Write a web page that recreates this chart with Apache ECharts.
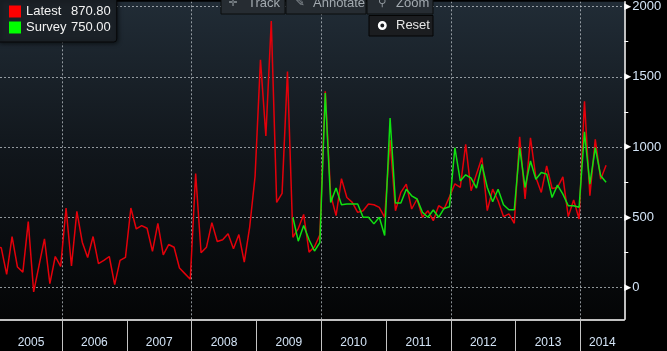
<!DOCTYPE html>
<html>
<head>
<meta charset="utf-8">
<script src="https://cdn.jsdelivr.net/npm/echarts@6/dist/echarts.min.js"></script>
<style>
  html, body { margin: 0; padding: 0; background: #000; }
  #main { width: 667px; height: 351px; }
</style>
</head>
<body>
<div id="main"></div>
<script>
var chartDom = document.getElementById('main');
var myChart = echarts.init(chartDom);
var option;

// 数据起点 [年, 月(0起)]
const latestStart = [2004, 11]; // 2004-12
const latest = [
  290,
  283, 94, 363, 146, 110, 469, -31, 158, 347, 28, 221, 151,        // 2005
  566, 153, 542, 323, 214, 363, 170, 193, 221, 21, 193, 215,       // 2006
  566, 417, 441, 422, 257, 457, 233, 306, 287, 139, 99, 59,        // 2007
  811, 248, 287, 462, 328, 340, 382, 276, 377, 181, 430, 790,      // 2008
  1621, 1078, 1897, 606, 670, 1538, 358, 420, 520, 252, 290, 375,  // 2009
  1396, 660, 512, 775, 641, 606, 535, 547, 594, 589, 571, 500,     // 2010
  1050, 547, 677, 736, 559, 630, 500, 547, 476, 582, 559, 645,     // 2011
  738, 712, 1019, 689, 807, 924, 547, 700, 618, 505, 524, 457,     // 2012
  1073, 630, 1066, 783, 677, 866, 705, 712, 788, 505, 623, 488,    // 2013
  1326, 653, 1054, 771, 870.8                                      // 2014
];
const surveyStart = [2009, 6]; // 2009-07
const survey = [
  500, 330, 441, 340, 260, 320,                                    // 2009
  1384, 606, 708, 589, 594, 594, 594, 500, 500, 453, 500, 370,     // 2010
  1207, 601, 601, 700, 653, 630, 535, 500, 552, 500, 563, 575,     // 2011
  995, 759, 802, 778, 708, 877, 712, 611, 700, 589, 554, 554,      // 2012
  995, 712, 901, 771, 818, 807, 641, 729, 665, 582, 582, 571,      // 2013
  1108, 736, 995, 795, 750                                         // 2014
];
const years = [2005, 2006, 2007, 2008, 2009, 2010, 2011, 2012, 2013, 2014];
const yearBreaks = [2006, 2007, 2008, 2009, 2010, 2011, 2012, 2013, 2014];
const gridYears = [2006, 2008, 2010, 2012, 2014];
const yLabels = [0, 500, 1000, 1500, 2000];

// 坐标范围
const xMin = 2005.043, xMax = 2014.677;
const yMin = -226, yMax = 2033;
const dayFrac = 0.75; // 发布日大约在月底前一周

const toPoints = (start, values) => values.map((v, k) => {
  return [start[0] + (start[1] + k + dayFrac) / 12, v];
});
// 年份标签放在每段可见年份的中间
const yearMid = years.map(y => (Math.max(y, xMin) + Math.min(y + 1, xMax)) / 2);

const font = 'Liberation Sans, Arial, sans-serif';
const labelColor = '#d3e4f6';
const gridLine = { color: 'rgba(190,196,202,0.75)', width: 1, type: [2, 2] };

option = {
  animation: false,
  backgroundColor: '#000',
  textStyle: { fontFamily: font },
  grid: {
    left: 0, right: 42.7, top: 0, bottom: 31.7,
    show: true, borderWidth: 0,
    backgroundColor: new echarts.graphic.LinearGradient(0, 0, 0, 1, [
      { offset: 0, color: '#212c36' },
      { offset: 0.5, color: '#10151a' },
      { offset: 1, color: '#040506' }
    ])
  },
  legend: {
    left: -1, top: -1, orient: 'vertical',
    icon: 'rect', itemWidth: 12, itemHeight: 12, itemGap: 3,
    padding: [6, 6, 8, 10],
    backgroundColor: '#1b2127', borderColor: '#060708', borderWidth: 1,
    borderRadius: [0, 0, 3, 0],
    shadowBlur: 4, shadowColor: 'rgba(0,0,0,0.6)', shadowOffsetX: 1, shadowOffsetY: 1,
    selectedMode: false,
    textStyle: {
      color: '#f2f2f2', fontSize: 13, lineHeight: 13, fontFamily: font,
      rich: {
        n: { width: 45, color: '#f2f2f2', fontSize: 13, fontFamily: font },
        v: { color: '#f2f2f2', fontSize: 13, fontFamily: font }
      }
    },
    formatter: function (name) {
      const arr = name === 'Latest' ? latest : survey;
      return '{n|' + name + '}{v|' + arr[arr.length - 1].toFixed(2) + '}';
    },
    data: ['Latest', 'Survey']
  },
  xAxis: {
    type: 'value', min: xMin, max: xMax, position: 'bottom',
    axisLine: { show: true, onZero: false, lineStyle: { color: '#ffffff', width: 1.5 } },
    axisTick: { show: true, length: 32, customValues: yearBreaks, lineStyle: { color: '#c4c4c4', width: 1 } },
    axisLabel: {
      customValues: yearMid, margin: 17, color: labelColor, fontSize: 12, fontFamily: font,
      formatter: function (v) { return String(Math.floor(v)); }
    },
    splitLine: { show: false }
  },
  yAxis: {
    type: 'value', position: 'right', min: yMin, max: yMax,
    splitNumber: 5, minInterval: 500, maxInterval: 500,
    axisLine: { show: true, onZero: false, lineStyle: { color: '#ffffff', width: 1.5 } },
    axisTick: { show: false },
    minorTick: { show: true, splitNumber: 2, length: 4, lineStyle: { color: '#ffffff', width: 1 } },
    splitLine: { show: true, showMinLine: false, showMaxLine: false, lineStyle: gridLine },
    axisLabel: {
      margin: 0, showMinLabel: false, showMaxLabel: false,
      formatter: function (v) {
        if (yLabels.indexOf(v) < 0) return '';
        return '{t|▶}{v|' + v + '}';
      },
      rich: {
        t: { fontFamily: 'DejaVu Sans', fontSize: 9, color: '#ffffff' },
        v: { fontFamily: font, fontSize: 13, color: labelColor, padding: [0, 0, 0, 1] }
      }
    }
  },
  series: [
    {
      name: 'Latest', type: 'line',
      data: toPoints(latestStart, latest),
      showSymbol: false, symbol: 'none', z: 3,
      itemStyle: { color: '#ff0000' },
      lineStyle: { color: '#e4000a', width: 1.5 },
      // 每两年一条竖向虚线
      markLine: {
        silent: true, z: 1, symbol: ['none', 'none'],
        label: { show: false },
        lineStyle: gridLine,
        data: gridYears.map(y => ({ xAxis: y }))
      }
    },
    {
      name: 'Survey', type: 'line',
      data: toPoints(surveyStart, survey),
      showSymbol: false, symbol: 'none', z: 4,
      itemStyle: { color: '#00ff00' },
      lineStyle: { color: '#10e010', width: 1.5 }
    }
  ],
  graphic: [
    { type: 'rect', z: 100, shape: { x: 221, y: -6, width: 64, height: 20 }, style: { fill: '#262c32', stroke: '#0b0c0d', lineWidth: 1 } },
    { type: 'rect', z: 100, shape: { x: 286, y: -6, width: 80, height: 20 }, style: { fill: '#262c32', stroke: '#0b0c0d', lineWidth: 1 } },
    { type: 'rect', z: 100, shape: { x: 367, y: -6, width: 66, height: 20 }, style: { fill: '#262c32', stroke: '#0b0c0d', lineWidth: 1 } },
    { type: 'text', z: 101, x: 233, y: 3.5, style: { text: '✛', fill: '#8e959b', font: '11px DejaVu Sans', align: 'center', verticalAlign: 'middle' } },
    { type: 'text', z: 101, x: 248, y: 3.5, style: { text: 'Track', fill: '#a3aab0', font: '13px ' + font, verticalAlign: 'middle' } },
    { type: 'text', z: 101, x: 300, y: 3.5, style: { text: '✎', fill: '#8e959b', font: '11px DejaVu Sans', align: 'center', verticalAlign: 'middle' } },
    { type: 'text', z: 101, x: 313, y: 3.5, style: { text: 'Annotate', fill: '#a3aab0', font: '13px ' + font, verticalAlign: 'middle' } },
    { type: 'text', z: 101, x: 382, y: 3.5, style: { text: '⚲', fill: '#8e959b', font: '11px DejaVu Sans', align: 'center', verticalAlign: 'middle' } },
    { type: 'text', z: 101, x: 396, y: 3.5, style: { text: 'Zoom', fill: '#a3aab0', font: '13px ' + font, verticalAlign: 'middle' } },
    { type: 'rect', z: 100, shape: { x: 369, y: 15.5, width: 64, height: 20.5 }, style: { fill: '#1b1d20', stroke: '#050505', lineWidth: 1 } },
    { type: 'circle', z: 101, shape: { cx: 382.3, cy: 25.5, r: 3.2 }, style: { fill: 'none', stroke: '#ffffff', lineWidth: 2.5 } },
    { type: 'text', z: 101, x: 396, y: 25.5, style: { text: 'Reset', fill: '#e6e6e6', font: '13px ' + font, verticalAlign: 'middle' } }
  ]
};

option && myChart.setOption(option);
</script>
</body>
</html>
